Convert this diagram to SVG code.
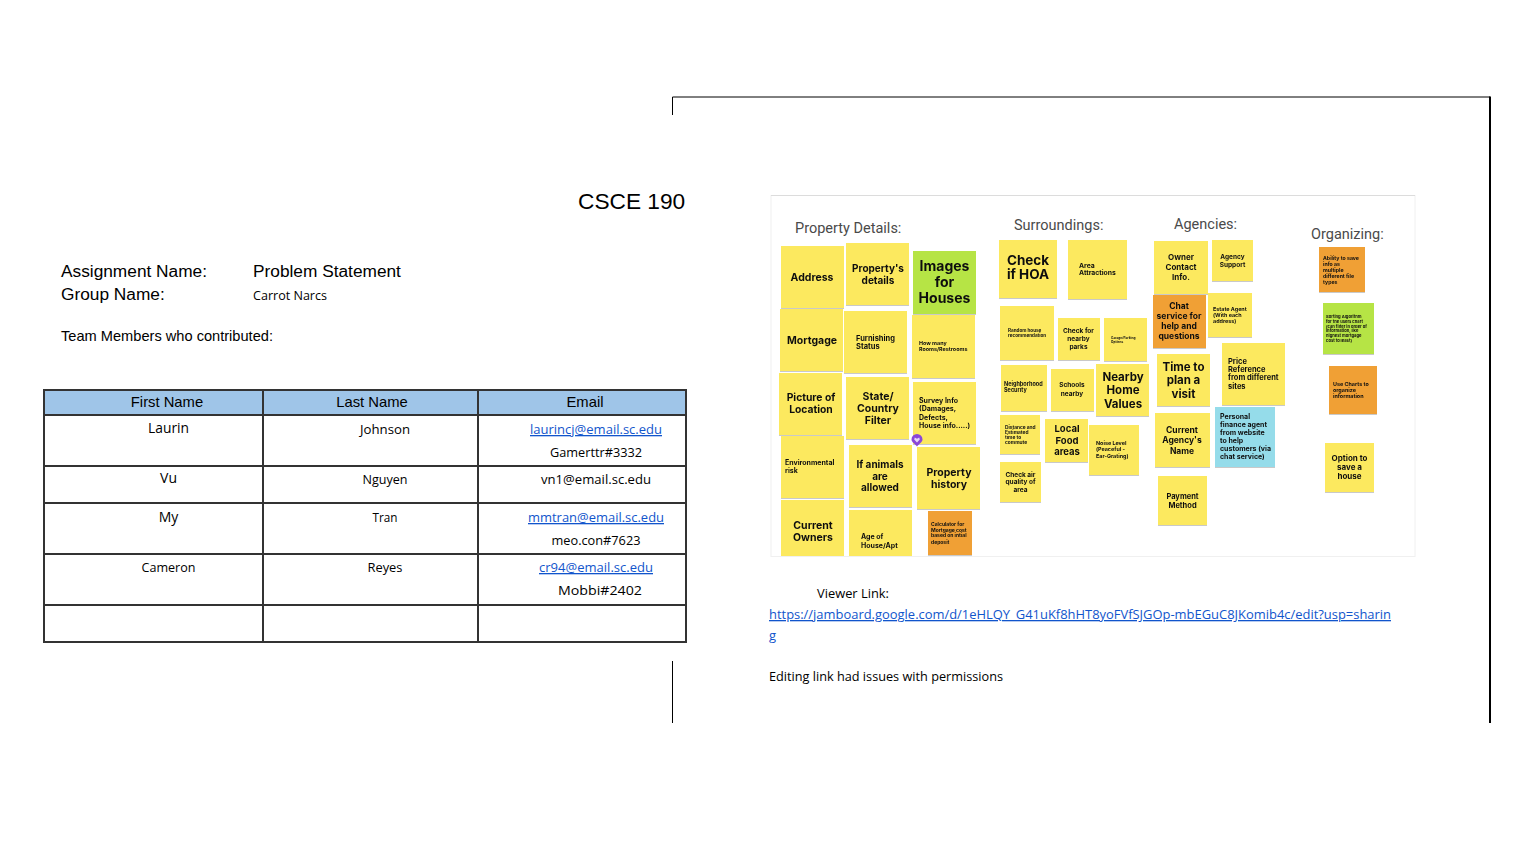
<svg xmlns="http://www.w3.org/2000/svg" width="1536" height="864" viewBox="0 0 1536 864">
<style>
text{font-family:"Liberation Sans",Arial,sans-serif;fill:#000}
.doc{font-size:17.300px}
.hd{font-size:14.800px;text-anchor:middle}
.c{font-family:"Open Sans","Noto Sans",sans-serif;font-size:13px;text-anchor:middle}
.o{font-family:"Open Sans","Noto Sans",sans-serif;font-size:13px}
.lk{fill:#1155cc;text-decoration:underline}
.b{font-family:Roboto,"Liberation Sans",sans-serif;font-size:14.500px;fill:#4a4a4a}
.n{font-family:Inter,"Liberation Sans",sans-serif;font-weight:700;fill:#111;filter:url(#bl)}
.m{text-anchor:middle}
.y{fill:#fce95f}.g{fill:#b6e445}.r{fill:#f0a035}.l{fill:#95dcea}
.s{filter:url(#sh)}
.ln{stroke:#333;stroke-width:2;fill:none}
.sl{stroke:#000;fill:none}
</style>
<defs>
<filter id="sh" x="-10%" y="-10%" width="120%" height="120%"><feDropShadow dx="0" dy="0.7" stdDeviation="0.6" flood-color="#000" flood-opacity="0.3"/></filter>
<filter id="bl" x="-5%" y="-20%" width="110%" height="140%"><feGaussianBlur stdDeviation="0.22"/></filter>
</defs>
<rect width="1536" height="864" fill="#fff"/>
<g id="slide-frame">
<path class="sl" d="M672.500 115V97H1490"/>
<path class="sl" d="M1490 96.500V723" style="stroke-width:2"/>
<path class="sl" d="M672.500 661V723"/>
</g>
<g id="document">
<text x="578" y="209" style="font-size:22.700px">CSCE 190</text>
<text class="doc" x="61" y="277">Assignment Name:</text>
<text class="doc" x="253" y="277">Problem Statement</text>
<text class="doc" x="61" y="300">Group Name:</text>
<text class="o" x="253" y="300" textLength="74" lengthAdjust="spacingAndGlyphs">Carrot Narcs</text>
<text x="61" y="341" font-size="14.500" textLength="212" lengthAdjust="spacingAndGlyphs">Team Members who contributed:</text>
</g>
<g id="table">
<rect x="44" y="390" width="642" height="25" fill="#9fc5e8"/>
<path class="ln" d="M44 390H686M44 415H686M44 466H686M44 503H686M44 554H686M44 605H686M44 642H686M44 389V643M263 390V642M478 390V642M686 389V643"/>
<text class="hd" x="167" y="407">First Name</text>
<text class="hd" x="372" y="407">Last Name</text>
<text class="hd" x="585" y="407">Email</text>
<text class="c" x="168.500" y="433" textLength="41" lengthAdjust="spacingAndGlyphs" style="font-size:14px">Laurin</text>
<text class="c" x="168.500" y="483" style="font-size:14px">Vu</text>
<text class="c" x="168.500" y="522" style="font-size:14px">My</text>
<text class="c" x="168.500" y="572" textLength="54" lengthAdjust="spacingAndGlyphs">Cameron</text>
<text class="c" x="385" y="434" textLength="50" lengthAdjust="spacingAndGlyphs">Johnson</text>
<text class="c" x="385" y="484" textLength="45" lengthAdjust="spacingAndGlyphs">Nguyen</text>
<text class="c" x="385" y="522" textLength="25" lengthAdjust="spacingAndGlyphs">Tran</text>
<text class="c" x="385" y="572" textLength="35" lengthAdjust="spacingAndGlyphs">Reyes</text>
<text class="c lk" x="596" y="434" textLength="132" lengthAdjust="spacingAndGlyphs">laurincj@email.sc.edu</text>
<text class="c" x="596" y="457" textLength="92" lengthAdjust="spacingAndGlyphs">Gamerttr#3332</text>
<text class="c" x="596" y="484" textLength="110" lengthAdjust="spacingAndGlyphs">vn1@email.sc.edu</text>
<text class="c lk" x="596" y="522" textLength="136" lengthAdjust="spacingAndGlyphs">mmtran@email.sc.edu</text>
<text class="c" x="596" y="545" textLength="89" lengthAdjust="spacingAndGlyphs">meo.con#7623</text>
<text class="c lk" x="596" y="572" textLength="114" lengthAdjust="spacingAndGlyphs">cr94@email.sc.edu</text>
<text class="c" x="600" y="595" textLength="84" lengthAdjust="spacingAndGlyphs">Mobbi#2402</text>
</g>
<g id="board">
<rect x="771" y="195.500" width="644" height="361" fill="#fff" stroke="#f0f0f0"/>
<path d="M771 195.500H1415" stroke="#dcdcdc"/>
<text class="b" x="795" y="233">Property Details:</text>
<text class="b" x="1014" y="230">Surroundings:</text>
<text class="b" x="1174" y="229">Agencies:</text>
<text class="b" x="1311" y="239">Organizing:</text>
</g>
<g id="note-address"><rect class="y s" x="781" y="246" width="63" height="62"/><text class="n m" font-size="10.500" x="812" y="281">Address</text></g>
<g id="note-details"><rect class="y s" x="846" y="243" width="63" height="62"/><text class="n m" font-size="10" x="878" y="272">Property's</text><text class="n m" font-size="10" x="878" y="284">details</text></g>
<g id="note-images"><rect class="g s" x="913" y="251" width="63" height="63"/><text class="n m" font-size="14" x="944.500" y="271">Images</text><text class="n m" font-size="14" x="944.500" y="287">for</text><text class="n m" font-size="14" x="944.500" y="303">Houses</text></g>
<g id="note-mortgage"><rect class="y s" x="780" y="309" width="63" height="62"/><text class="n m" font-size="10.500" x="812" y="344">Mortgage</text></g>
<g id="note-furnishing"><rect class="y s" x="844" y="311" width="63" height="62"/><text class="n" font-size="7.500" x="856" y="341">Furnishing</text><text class="n" font-size="7.500" x="856" y="349">Status</text></g>
<g id="note-rooms"><rect class="y s" x="912" y="315" width="63" height="63"/><text class="n" font-size="5.400" x="919" y="345">How many</text><text class="n" font-size="5.400" x="919" y="351">Rooms/Restrooms</text></g>
<g id="note-picture"><rect class="y s" x="779" y="373" width="63" height="62"/><text class="n m" font-size="10.300" x="811" y="401">Picture of</text><text class="n m" font-size="10.300" x="811" y="413">Location</text></g>
<g id="note-state"><rect class="y s" x="846" y="377" width="63" height="62"/><text class="n m" font-size="10.500" x="878" y="400">State/</text><text class="n m" font-size="10.500" x="878" y="412">Country</text><text class="n m" font-size="10.500" x="878" y="424">Filter</text></g>
<g id="note-survey"><rect class="y s" x="913" y="382" width="63" height="62"/><text class="n" font-size="7" x="919" y="403">Survey Info</text><text class="n" font-size="7" x="919" y="411">(Damages,</text><text class="n" font-size="7" x="919" y="420">Defects,</text><text class="n" font-size="7" x="919" y="428">House info.....)</text></g>
<g id="note-risk"><rect class="y s" x="781" y="436" width="63" height="62"/><text class="n" font-size="7" x="785" y="465">Environmental</text><text class="n" font-size="7" x="785" y="473">risk</text></g>
<g id="note-animals"><rect class="y s" x="849" y="445" width="63" height="62"/><text class="n m" font-size="10" x="880" y="468">If animals</text><text class="n m" font-size="10" x="880" y="480">are</text><text class="n m" font-size="10" x="880" y="491">allowed</text></g>
<g id="note-history"><rect class="y s" x="917" y="447" width="63" height="62"/><text class="n m" font-size="10.500" x="949" y="476">Property</text><text class="n m" font-size="10.500" x="949" y="488">history</text></g>
<g id="note-owners"><rect class="y" x="781" y="500" width="63" height="56"/><text class="n m" font-size="10.500" x="813" y="529">Current</text><text class="n m" font-size="10.500" x="813" y="541">Owners</text></g>
<g id="note-age"><rect class="y" x="849" y="510" width="63" height="46"/><text class="n" font-size="7" x="861" y="539">Age of</text><text class="n" font-size="7" x="861" y="548">House/Apt</text></g>
<g id="note-calculator"><rect class="r s" x="928" y="511" width="44" height="44"/><text class="n" font-size="5" x="931" y="526">Calculator for</text><text class="n" font-size="5" x="931" y="532">Mortgage cost</text><text class="n" font-size="5" x="931" y="537">based on intial</text><text class="n" font-size="5" x="931" y="544">deposit</text></g>
<g id="pin"><path d="M917 446.500C915 444 911.500 442 911.500 439.500A5.500 5.500 0 0 1 922.500 439.500C922.500 442 919 444 917 446.500Z" fill="#8b46d9"/><path d="M917 442.500L914.200 439.500L914.800 437.500L917 438.800L919.200 437.500L919.800 439.500Z" fill="#e6d8f7"/></g>
<g id="note-hoa"><rect class="y s" x="999" y="240" width="58" height="58"/><text class="n m" font-size="13.500" x="1028" y="265">Check</text><text class="n m" font-size="13.500" x="1028" y="279">if HOA</text></g>
<g id="note-area"><rect class="y s" x="1068" y="240" width="59" height="59"/><text class="n" font-size="6.800" x="1079" y="268">Area</text><text class="n" font-size="6.800" x="1079" y="275">Attractions</text></g>
<g id="note-random"><rect class="y s" x="1000" y="306" width="54" height="54"/><text class="n" font-size="4.600" x="1008" y="332">Random house</text><text class="n" font-size="4.600" x="1008" y="337">recommendation</text></g>
<g id="note-parks"><rect class="y s" x="1058" y="318" width="42" height="42"/><text class="n m" font-size="6.500" x="1078.500" y="333">Check for</text><text class="n m" font-size="6.500" x="1078.500" y="341">nearby</text><text class="n m" font-size="6.500" x="1078.500" y="349">parks</text></g>
<g id="note-garage"><rect class="y s" x="1104" y="318" width="43" height="43"/><text class="n" font-size="3.200" x="1111" y="339">Garage/Parking</text><text class="n" font-size="3.200" x="1111" y="343">Options</text></g>
<g id="note-security"><rect class="y s" x="1001" y="365" width="46" height="46"/><text class="n" font-size="5.500" x="1004" y="386">Neighborhood</text><text class="n" font-size="5.500" x="1004" y="392">Security</text></g>
<g id="note-schools"><rect class="y s" x="1051" y="369" width="43" height="42"/><text class="n m" font-size="6.500" x="1072" y="387">Schools</text><text class="n m" font-size="6.500" x="1072" y="396">nearby</text></g>
<g id="note-values"><rect class="y s" x="1096" y="364" width="53" height="52"/><text class="n m" font-size="11.500" x="1123" y="381">Nearby</text><text class="n m" font-size="11.500" x="1123" y="394">Home</text><text class="n m" font-size="11.500" x="1123" y="408">Values</text></g>
<g id="note-distance"><rect class="y s" x="1000" y="415" width="40" height="39"/><text class="n" font-size="4.800" x="1005" y="429">Distance and</text><text class="n" font-size="4.800" x="1005" y="434">Estimated</text><text class="n" font-size="4.800" x="1005" y="439">time to</text><text class="n" font-size="4.800" x="1005" y="444">commute</text></g>
<g id="note-food"><rect class="y s" x="1045" y="419" width="43" height="43"/><text class="n m" font-size="9.500" x="1067" y="432">Local</text><text class="n m" font-size="9.500" x="1067" y="444">Food</text><text class="n m" font-size="9.500" x="1067" y="455">areas</text></g>
<g id="note-noise"><rect class="y s" x="1089" y="425" width="50" height="50"/><text class="n" font-size="5.400" x="1096" y="445">Noise Level</text><text class="n" font-size="5.400" x="1096" y="451">(Peaceful -</text><text class="n" font-size="5.400" x="1096" y="458">Ear-Grating)</text></g>
<g id="note-air"><rect class="y s" x="1000" y="462" width="41" height="40"/><text class="n m" font-size="6.500" x="1020.500" y="477">Check air</text><text class="n m" font-size="6.500" x="1020.500" y="484">quality of</text><text class="n m" font-size="6.500" x="1020.500" y="492">area</text></g>
<g id="note-contact"><rect class="y s" x="1154" y="241" width="54" height="53"/><text class="n m" font-size="8" x="1181" y="260">Owner</text><text class="n m" font-size="8" x="1181" y="270">Contact</text><text class="n m" font-size="8" x="1181" y="280">Info.</text></g>
<g id="note-chat"><rect class="r s" x="1153" y="295" width="53" height="53"/><text class="n m" font-size="8.500" x="1179" y="309">Chat</text><text class="n m" font-size="8.500" x="1179" y="319">service for</text><text class="n m" font-size="8.500" x="1179" y="329">help and</text><text class="n m" font-size="8.500" x="1179" y="339">questions</text></g>
<g id="note-visit"><rect class="y s" x="1157" y="354" width="53" height="52"/><text class="n m" font-size="11.500" x="1183.500" y="371">Time to</text><text class="n m" font-size="11.500" x="1183.500" y="384">plan a</text><text class="n m" font-size="11.500" x="1183.500" y="398">visit</text></g>
<g id="note-agency"><rect class="y s" x="1155" y="413" width="55" height="54"/><text class="n m" font-size="8.500" x="1182" y="433">Current</text><text class="n m" font-size="8.500" x="1182" y="443">Agency's</text><text class="n m" font-size="8.500" x="1182" y="454">Name</text></g>
<g id="note-payment"><rect class="y s" x="1158" y="476" width="49" height="49"/><text class="n m" font-size="7.500" x="1182.500" y="499">Payment</text><text class="n m" font-size="7.500" x="1182.500" y="508">Method</text></g>
<g id="note-support"><rect class="y s" x="1212" y="240" width="41" height="41"/><text class="n m" font-size="6.500" x="1232.500" y="259">Agency</text><text class="n m" font-size="6.500" x="1232.500" y="267">Support</text></g>
<g id="note-estate"><rect class="y s" x="1208" y="293" width="44" height="44"/><text class="n" font-size="5.400" x="1213" y="311">Estate Agent</text><text class="n" font-size="5.400" x="1213" y="317">(With each</text><text class="n" font-size="5.400" x="1213" y="323">address)</text></g>
<g id="note-price"><rect class="y s" x="1222" y="343" width="63" height="62"/><text class="n" font-size="7.500" x="1228" y="364">Price</text><text class="n" font-size="7.500" x="1228" y="372">Reference</text><text class="n" font-size="7.500" x="1228" y="380">from different</text><text class="n" font-size="7.500" x="1228" y="389">sites</text></g>
<g id="note-finance"><rect class="l s" x="1215" y="407" width="60" height="60"/><text class="n" font-size="7" x="1220" y="419">Personal</text><text class="n" font-size="7" x="1220" y="427">finance agent</text><text class="n" font-size="7" x="1220" y="435">from website</text><text class="n" font-size="7" x="1220" y="443">to help</text><text class="n" font-size="7" x="1220" y="451">customers (via</text><text class="n" font-size="7" x="1220" y="459">chat service)</text></g>
<g id="note-ability"><rect class="r s" x="1319" y="247" width="46" height="45"/><text class="n" font-size="5.200" x="1323" y="260">Ability to save</text><text class="n" font-size="5.200" x="1323" y="266">info as</text><text class="n" font-size="5.200" x="1323" y="272">multiple</text><text class="n" font-size="5.200" x="1323" y="278">different file</text><text class="n" font-size="5.200" x="1323" y="284">types</text></g>
<g id="note-sorting"><rect class="g s" x="1323" y="303" width="51" height="51"/><text class="n" font-size="4.100" x="1326" y="318">Sorting Algorithm</text><text class="n" font-size="4.100" x="1326" y="323">for the users chart</text><text class="n" font-size="4.100" x="1326" y="328">(can filter in order of</text><text class="n" font-size="4.100" x="1326" y="332">information, like</text><text class="n" font-size="4.100" x="1326" y="337">highest mortgage</text><text class="n" font-size="4.100" x="1326" y="342">cost to least)</text></g>
<g id="note-charts"><rect class="r s" x="1329" y="366" width="48" height="48"/><text class="n" font-size="5.400" x="1333" y="386">Use Charts to</text><text class="n" font-size="5.400" x="1333" y="392">organize</text><text class="n" font-size="5.400" x="1333" y="398">information</text></g>
<g id="note-save"><rect class="y s" x="1325" y="443" width="49" height="49"/><text class="n m" font-size="8" x="1349.500" y="461">Option to</text><text class="n m" font-size="8" x="1349.500" y="470">save a</text><text class="n m" font-size="8" x="1349.500" y="479">house</text></g>
<g id="links">
<text class="o" x="817" y="598" textLength="72" lengthAdjust="spacingAndGlyphs">Viewer Link:</text>
<text class="o lk" x="769" y="619" textLength="622" lengthAdjust="spacingAndGlyphs">https://jamboard.google.com/d/1eHLQY_G41uKf8hHT8yoFVfSJGOp-mbEGuC8JKomib4c/edit?usp=sharin</text>
<text class="o lk" x="769" y="640">g</text>
<text class="o" x="769" y="681" textLength="234" lengthAdjust="spacingAndGlyphs">Editing link had issues with permissions</text>
</g>
</svg>
